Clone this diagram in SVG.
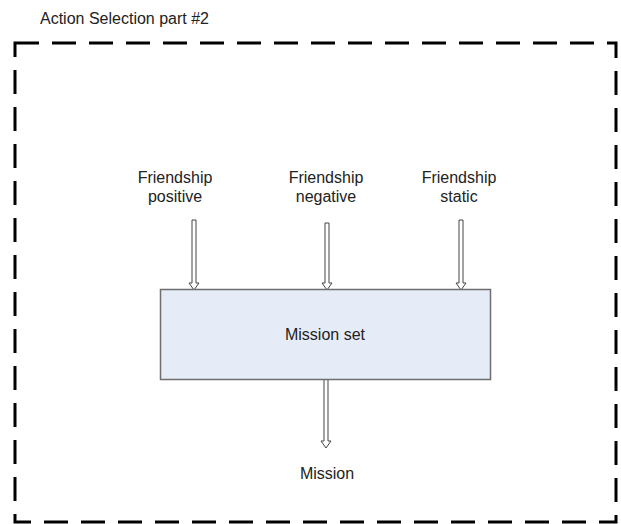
<svg xmlns="http://www.w3.org/2000/svg" width="621" height="524" viewBox="0 0 621 524">
<style>
text{font-family:"Liberation Sans",Arial,sans-serif;font-size:16px;fill:#222}
.frame{fill:none;stroke:#000;stroke-width:3;stroke-dasharray:24 13}
.box{fill:#E6ECF7;stroke:#6E6E6E;stroke-width:1.5}
.arr{fill:#fff;stroke:#444;stroke-width:1;stroke-linejoin:miter}
</style>
<rect width="621" height="524" fill="#fff"/>
<text x="40" y="24">Action Selection part #2</text>
<rect class="frame" x="15" y="43" width="601" height="479"/>
<g id="connectors">
<path class="arr" d="M192,220 L196,220 L196,283 L199,283 L194,290 L189,283 L192,283 Z"/>
<path class="arr" d="M325,223 L329,223 L329,283 L332,283 L327,290 L322,283 L325,283 Z"/>
<path class="arr" d="M459,220 L463,220 L463,283 L466,283 L461,290 L456,283 L459,283 Z"/>
<path class="arr" d="M324,379 L328,379 L328,441 L331,441 L326,448 L321,441 L324,441 Z"/>
</g>
<g id="fpos"><text x="175" y="183" text-anchor="middle">Friendship</text><text x="175" y="202" text-anchor="middle">positive</text></g>
<g id="fneg"><text x="326" y="183" text-anchor="middle">Friendship</text><text x="326" y="202" text-anchor="middle">negative</text></g>
<g id="fsta"><text x="459" y="183" text-anchor="middle">Friendship</text><text x="459" y="202" text-anchor="middle">static</text></g>
<g id="missionset"><rect class="box" x="160.5" y="289.5" width="330" height="90"/><text x="325" y="340" text-anchor="middle">Mission set</text></g>
<g id="mission"><text x="327" y="479" text-anchor="middle">Mission</text></g>
</svg>
